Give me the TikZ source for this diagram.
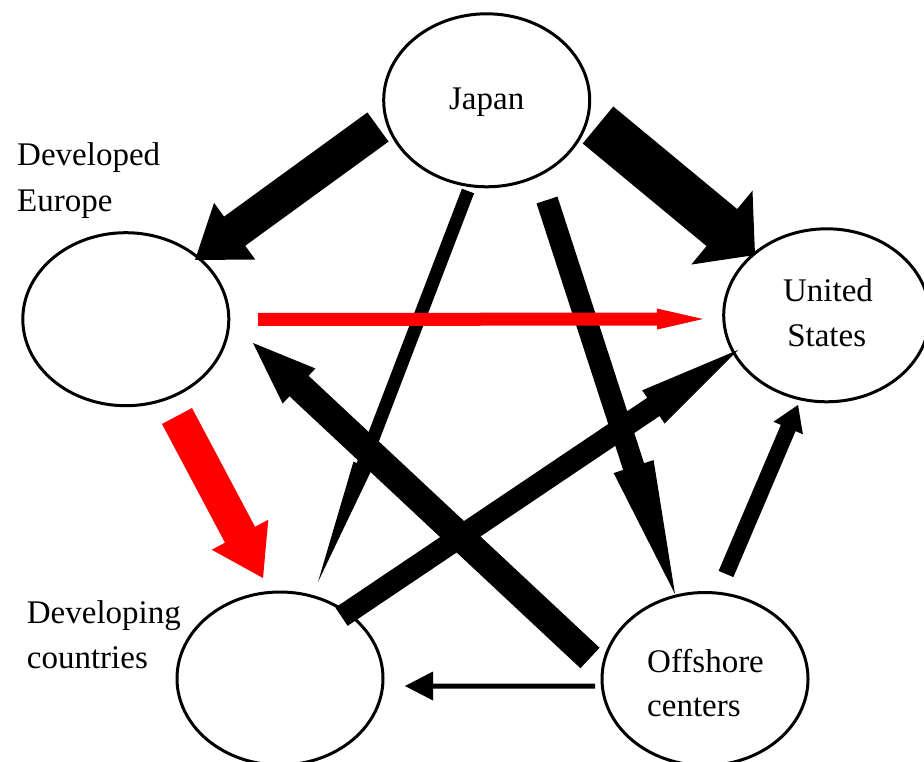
\documentclass[tikz,border=0pt]{standalone}
\usepackage{fontspec}
\setmainfont{Liberation Serif}
\usetikzlibrary{calc,shapes.geometric}
% block arrow: [colour]{tail}{tip}{shaft half-width}{head half-width}{head length}
\newcommand\blockarrow[6][black]{%
  \path ($(#3)!#6!(#2)$) coordinate (ba-h);
  \fill[#1] ($(#2)!#4!90:(#3)$) -- ($(ba-h)!#4!-90:(#2)$) -- ($(ba-h)!#5!-90:(#2)$)
    -- (#3) -- ($(ba-h)!#5!90:(#2)$) -- ($(ba-h)!#4!90:(#2)$) -- ($(#2)!#4!-90:(#3)$) -- cycle;}
\tikzset{
  country/.style={draw, line width=3pt, ellipse, minimum width=206pt, minimum height=173pt, inner sep=0pt},
  lbl/.style={font=\fontsize{33}{45}\selectfont, inner sep=0pt}
}
\begin{document}
\begin{tikzpicture}[x=1pt,y=-1pt]
\useasboundingbox (0,0) rectangle (924,762);
\fill[white] (0,0) rectangle (924,762);
% countries
\node[country] (japan) at (486.7,100.3) {};
\node[country] (europe) at (125.8,319.2) {};
\node[country] (us) at (826.7,315.3) {};
\node[country] (devc) at (280,678.5) {};
\node[country] (offsh) at (705,679) {};
% labels
\node[lbl, anchor=base] (tjapan) at (486.7,110) {Japan};
\node[lbl, anchor=base west] (teur1) at (17,166) {Developed};
\node[lbl, anchor=base west] (teur2) at (17,211.7) {Europe};
\node[lbl, anchor=base] (tus1) at (828,301.7) {United};
\node[lbl, anchor=base] (tus2) at (826.7,346.7) {States};
\node[lbl, anchor=base west] (tdev1) at (26.7,623.3) {Developing};
\node[lbl, anchor=base west] (tdev2) at (26.7,668.3) {countries};
\node[lbl, anchor=base west] (toff1) at (647,672) {Offshore};
\node[lbl, anchor=base west] (toff2) at (647,716) {centers};
% connector ends
\coordinate (jeA) at (378,127);   \coordinate (jeB) at (195,260);
\coordinate (juA) at (598,125);   \coordinate (juB) at (755,255);
\coordinate (jdA) at (468,191);   \coordinate (jdB) at (318,582);
\coordinate (joA) at (547,200);   \coordinate (joB) at (675,594);
\coordinate (duA) at (341.5,616.7); \coordinate (duB) at (738,350);
\coordinate (oeA) at (590,658);   \coordinate (oeB) at (253,343);
\coordinate (ouA) at (726,574);   \coordinate (ouB) at (798,405);
\coordinate (odA) at (595,686);   \coordinate (odB) at (405,686);
\coordinate (euA) at (258,319.5); \coordinate (euB) at (703,319);
\coordinate (edA) at (177,416);   \coordinate (edB) at (263,578);
% black arrows
\blockarrow{jeA}{jeB}{18pt}{35pt}{49pt}
\blockarrow{juA}{juB}{24pt}{48pt}{43pt}
\blockarrow{jdA}{jdB}{6.5pt}{10pt}{125pt}
\blockarrow{joA}{joB}{11pt}{21pt}{134pt}
\blockarrow{duA}{duB}{11pt}{20pt}{102pt}
\blockarrow{oeA}{oeB}{14pt}{24pt}{63pt}
\blockarrow{ouA}{ouB}{8pt}{16pt}{25pt}
\blockarrow{odA}{odB}{2.5pt}{14.5pt}{28pt}
% red arrows
\blockarrow[red]{euA}{euB}{6.5pt}{10.5pt}{46pt}
\blockarrow[red]{edA}{edB}{17pt}{32pt}{49pt}
\end{tikzpicture}
\end{document}
